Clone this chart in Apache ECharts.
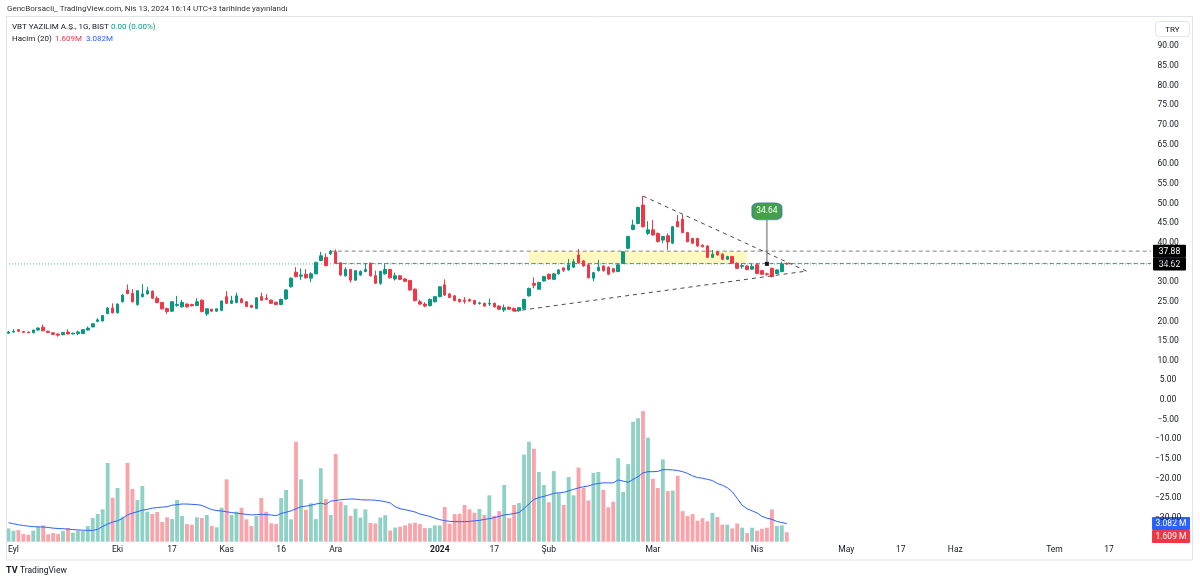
<!DOCTYPE html>
<html><head><meta charset="utf-8">
<script src="https://cdn.jsdelivr.net/npm/echarts@6/dist/echarts.min.js"></script>
<style>html,body{margin:0;padding:0;background:#fff}#c{width:1200px;height:583px}</style>
</head><body><div id="c"></div><script>
// candles: [open, close, low, high], daily bars starting Aug 31, 2023
const ohlc = [
[17.0,17.3,16.8,17.6],[17.3,17.5,17.1,18.0],[17.9,17.5,17.3,18.0],[17.4,17.2,17.1,17.5],[17.3,17.1,17.0,17.4],
[17.1,17.8,17.0,17.9],[17.8,18.3,17.6,18.5],[18.5,17.6,17.5,19.2],[17.5,17.2,17.0,17.6],[17.1,16.7,16.5,17.2],
[16.8,16.5,16.1,16.9],[16.6,17.2,16.5,17.3],[17.3,16.8,16.7,18.0],[16.8,17.0,16.7,17.1],[16.9,17.3,16.5,17.7],
[16.9,17.9,16.8,18.0],[17.8,18.3,17.7,18.7],[18.6,19.4,18.5,19.5],[20.0,20.4,19.8,20.8],[20.1,21.5,20.0,21.6],
[22.0,23.4,21.8,23.6],[23.4,22.2,22.0,24.6],[22.2,24.4,22.0,24.6],[25.0,26.7,24.8,26.9],[28.0,27.1,26.9,29.4],
[27.1,25.0,24.8,28.2],[24.3,27.8,24.0,28.0],[26.3,27.0,26.1,29.5],[27.0,27.8,26.8,28.8],[27.7,25.9,25.7,27.9],
[25.9,24.8,24.6,26.4],[24.8,23.2,23.0,25.0],[23.3,22.5,21.9,23.5],[22.6,25.0,22.4,25.2],[24.1,24.3,23.7,26.5],
[23.7,24.8,23.5,25.5],[24.4,23.7,23.5,24.6],[24.3,24.0,23.8,24.5],[24.0,25.0,23.9,25.9],[25.4,22.5,22.3,25.6],
[21.9,23.2,21.4,23.3],[23.1,22.6,22.4,23.2],[22.6,23.2,22.5,23.3],[22.8,25.2,22.6,25.3],[26.3,24.6,24.4,27.7],
[24.6,25.3,24.4,26.5],[24.8,26.5,24.6,27.3],[25.7,24.8,24.6,26.0],[25.0,23.8,23.6,25.2],[24.1,23.6,23.4,24.2],
[23.3,26.0,23.1,26.1],[26.3,25.4,25.2,27.3],[25.9,25.6,25.4,26.9],[25.4,24.6,24.4,25.6],[24.9,24.3,24.1,25.0],
[24.3,25.6,24.1,25.8],[25.7,28.0,25.5,28.2],[28.8,31.0,28.6,31.2],[32.5,31.4,31.2,33.8],[31.5,31.8,30.5,33.5],
[32.0,31.1,30.9,33.3],[31.0,32.1,30.0,32.5],[32.1,35.0,32.0,35.2],[35.5,36.7,35.3,37.7],[36.3,34.2,34.0,37.3],
[37.2,37.8,36.9,38.2],[37.7,34.8,34.6,38.3],[34.9,31.8,31.6,35.1],[31.6,33.2,31.4,33.8],[33.2,30.5,29.9,33.4],
[30.5,32.9,30.3,33.1],[31.8,32.7,31.6,33.0],[32.7,33.2,32.5,34.8],[34.8,31.6,31.4,35.0],[31.6,29.7,29.5,32.9],
[29.7,32.7,29.3,32.9],[32.1,33.2,31.9,34.8],[33.2,31.1,30.9,33.4],[30.8,31.6,30.4,32.4],[31.6,30.7,30.5,31.8],
[30.8,30.2,30.0,31.0],[30.4,28.0,27.8,30.6],[28.2,25.3,25.1,28.4],[25.0,24.4,24.2,25.5],[24.4,23.9,23.6,24.9],
[24.0,25.6,23.8,25.8],[25.0,26.3,24.8,26.5],[26.3,28.8,26.1,29.0],[29.3,26.7,26.5,30.7],[27.0,26.1,25.9,27.2],
[26.5,25.3,25.1,26.7],[25.6,25.0,24.8,25.8],[25.4,25.1,24.5,26.2],[25.6,25.2,25.0,25.8],[25.3,24.4,24.2,25.5],
[24.5,24.7,24.3,25.0],[24.6,23.9,23.7,24.8],[24.4,24.6,23.9,25.8],[24.6,23.7,23.5,24.8],[23.9,23.1,22.9,24.1],
[22.9,23.5,22.4,24.3],[23.6,23.1,22.9,23.8],[23.3,22.7,22.5,23.5],[22.7,23.5,22.5,23.7],[23.3,25.6,23.1,25.8],
[26.5,28.4,26.3,28.6],[29.7,29.2,28.4,31.2],[28.2,29.9,28.0,30.1],[30.3,31.4,30.1,31.6],[32.0,30.8,30.6,32.2],
[30.7,32.1,30.5,32.3],[32.1,33.1,31.9,33.3],[33.6,33.0,32.6,33.8],[33.1,34.4,32.9,35.9],[33.8,35.2,33.6,35.9],
[36.9,34.9,34.7,38.4],[35.4,34.1,33.9,35.6],[34.4,31.1,30.9,34.6],[31.0,32.4,30.2,32.6],[32.9,33.8,32.7,35.7],
[34.1,32.9,32.7,34.3],[33.8,32.0,31.8,34.0],[33.4,32.6,32.4,33.6],[32.7,34.4,32.5,34.6],[34.8,37.7,34.6,37.9],
[38.6,41.6,38.4,41.8],[43.4,44.5,43.2,45.9],[44.9,49.0,44.7,49.2],[49.6,44.1,43.9,51.9],[42.4,43.3,42.0,45.5],
[43.3,42.0,41.8,45.8],[42.4,40.3,40.1,42.6],[40.7,41.6,39.9,41.8],[41.8,40.2,38.2,42.4],[39.9,44.1,39.7,44.3],
[45.4,44.1,43.9,47.1],[46.0,42.6,42.4,47.1],[42.6,40.3,40.1,42.8],[41.1,39.9,39.7,41.3],[41.1,39.2,39.0,41.3],
[39.4,39.0,38.8,39.6],[39.2,36.3,36.1,39.4],[36.3,37.1,36.1,38.2],[37.7,36.9,36.7,37.9],[37.1,35.8,35.6,37.3],
[35.8,36.5,35.6,36.7],[36.5,34.8,34.6,36.7],[34.8,33.5,33.3,35.0],[34.0,34.2,33.4,34.8],[34.1,33.2,33.0,34.3],
[33.3,34.0,33.1,34.6],[34.4,32.2,32.0,34.6],[32.9,32.0,31.8,33.1],[32.1,32.0,31.6,32.4],[33.5,31.4,31.2,33.7],
[32.2,33.1,32.0,33.3],[32.7,34.62,32.5,35.2],[34.70,34.62,34.4,35.0]
];
// volume, millions
const volume = [
2.27,1.87,1.98,1.30,1.19,1.87,2.55,2.78,1.25,1.47,1.30,1.81,2.32,1.53,1.87,1.81,2.66,4.02,4.71,5.50,
13.38,7.48,9.13,4.25,13.38,8.96,7.09,9.47,5.10,4.71,5.05,3.34,4.14,3.85,7.09,4.37,3.00,2.89,4.14,4.02,
4.54,2.66,2.44,5.78,10.60,4.54,5.10,5.78,3.80,2.66,4.37,7.43,5.10,3.12,3.00,7.43,8.79,3.80,17.0,10.6,
5.44,6.52,3.85,12.5,7.26,4.54,14.9,6.8,6.2,4.4,5.6,4.1,5.5,3.2,3.1,4.1,4.5,1.9,2.4,2.55,
2.78,3.12,3.23,3.0,2.32,2.32,2.78,2.78,5.9,3.06,4.7,4.76,6.24,5.5,4.93,5.56,4.54,7.88,4.42,5.2,
9.64,4.0,6.24,6.58,14.8,17.0,15.8,11.85,9.64,6.7,12.0,8.2,6.24,11.0,7.88,12.6,9.2,7.0,11.7,11.85,
8.8,5.84,6.8,14.2,8.45,13.2,20.4,21.0,22.2,17.7,10.7,9.13,14.0,8.6,8.67,11.2,5.2,4.37,4.7,3.57,
4.0,3.46,4.9,4.2,2.9,2.9,2.27,3.1,2.38,1.47,2.38,1.87,2.2,2.38,5.5,2.66,2.78,1.609
];
// volume moving average (20), millions
const volMA = [
3.23,3.05,2.88,2.75,2.65,2.56,2.52,2.50,2.42,2.30,2.25,2.20,2.15,2.06,2.00,1.95,1.93,1.93,2.10,2.60,
3.00,3.35,3.55,3.95,4.55,4.85,5.10,5.35,5.50,5.70,5.80,5.88,5.95,6.20,6.30,6.41,6.40,6.35,6.30,6.18,
5.80,5.45,5.30,5.22,5.08,4.95,4.85,4.75,4.65,4.55,4.60,4.65,4.60,4.55,4.42,4.80,5.00,5.25,5.60,5.95,
6.05,6.20,6.40,6.55,6.35,6.90,7.00,7.14,7.20,7.26,7.24,7.14,7.10,7.10,7.05,6.95,6.80,6.60,5.95,5.60,
5.45,5.25,5.05,4.70,4.50,4.30,4.00,3.75,3.57,3.46,3.42,3.40,3.40,3.45,3.55,3.62,3.80,3.90,4.10,4.30,
4.55,4.65,4.80,4.95,5.65,6.40,7.20,7.50,7.70,7.95,8.22,8.30,8.39,8.65,8.90,9.15,9.35,9.47,9.75,9.90,
10.0,10.0,10.0,10.5,10.3,10.1,10.6,11.05,11.7,11.9,11.9,11.95,12.25,12.25,12.2,12.1,11.9,11.6,11.2,10.9,
10.8,10.6,10.4,9.9,9.6,9.18,8.5,7.37,6.2,5.6,5.25,4.9,4.3,4.0,3.80,3.45,3.25,3.08
];
const tickIdx  = [1,22,33,44,55,66,87,98,109,130,151,169,180,191,211,222];
const tickText = ['Eyl','Eki','17','Kas','16','Ara','2024','17','Şub','Mar','Nis','May','17','Haz','Tem','17'];
const barCount = 231;
const categories = Array.from({length: barCount}, (_, i) => String(i));
// drawings (bar index, price)
const triUpper = [[128, 51.9], [161, 32.8]];
const triLower = [[102, 22.6], [161, 32.8]];
const resLine = [[65, 37.88], [230.5, 37.88]];
const supLine = [[66, 34.75], [230.5, 34.75]];
const lastLine = [[-0.5, 34.62], [230.5, 34.62]];
const zone = [[105, 37.88], [149, 34.75]];
const note = {idx: 153, price: 34.64, boxPrice: 48.0, stemTop: 45.8, text: '34.64'};
const lastPrice = 34.62, lastVol = 1.609, lastMA = 3.082;

const UP = '#089981', DOWN = '#F23645';
const FONT = 'Roboto, "Noto Sans", sans-serif';
const chart = echarts.init(document.getElementById('c'), null, {renderer: 'canvas'});

const gridL = 6.02, gridR = 48.9;
const option = {
  animation: false,
  backgroundColor: '#ffffff',
  grid: [
    {left: gridL, right: gridR, top: 26.65, height: 510.9},
    {left: gridL, right: gridR, top: 341.7, height: 200}
  ],
  xAxis: [
    {type: 'category', gridIndex: 0, data: categories, boundaryGap: true, show: false},
    {type: 'category', gridIndex: 1, data: categories, boundaryGap: true,
     axisLine: {show: false}, axisTick: {show: false}, splitLine: {show: false},
     axisLabel: {show: true, margin: 4, color: '#131722', fontSize: 8.5, fontFamily: FONT,
       interval: (idx) => tickIdx.indexOf(idx) >= 0,
       formatter: (v, idx) => { const k = tickIdx.indexOf(idx); if (k < 0) return ''; const t = tickText[k]; return t === '2024' ? '{b|' + t + '}' : t; },
       rich: {b: {fontWeight: 'bold', fontSize: 8.5, fontFamily: FONT, color: '#131722'}}}},
    {type: 'value', gridIndex: 0, min: -0.5, max: barCount - 0.5, show: false}
  ],
  yAxis: [
    {type: 'value', gridIndex: 0, position: 'right', min: -35, max: 95, interval: 5,
     axisLine: {show: false}, axisTick: {show: false}, splitLine: {show: false},
     axisLabel: {margin: 17, align: 'center', color: '#131722', fontSize: 8.5, fontFamily: FONT,
       formatter: (v) => (v >= 95 || v <= -35) ? '' : (v < 0 ? '\u2212' + Math.abs(v).toFixed(2) : v.toFixed(2))}},
    {type: 'value', gridIndex: 1, min: 0, max: 34, show: false}
  ],
  series: [
    {type: 'line', xAxisIndex: 2, yAxisIndex: 0, data: resLine, symbol: 'none', z: 1,
     lineStyle: {color: '#808080', width: 1, type: [4, 3]},
     markArea: {silent: true, itemStyle: {color: 'rgba(255,235,59,0.32)'},
       data: [[{coord: zone[0]}, {coord: zone[1]}]]}},
    {type: 'line', xAxisIndex: 2, yAxisIndex: 0, data: supLine, symbol: 'none', z: 1,
     lineStyle: {color: '#808080', width: 1, type: [4, 3]}},
    {type: 'line', xAxisIndex: 2, yAxisIndex: 0, data: lastLine, symbol: 'none', z: 1,
     lineStyle: {color: 'rgba(8,153,129,0.7)', width: 1, type: [1, 2]}},
    {type: 'bar', xAxisIndex: 1, yAxisIndex: 1, barWidth: '78%', z: 2,
     data: volume.map((v, i) => ({value: v, itemStyle: {color: ohlc[i][1] >= ohlc[i][0] ? 'rgba(8,153,129,0.45)' : 'rgba(242,54,69,0.45)'}}))},
    {type: 'line', xAxisIndex: 1, yAxisIndex: 1, data: volMA, symbol: 'none', z: 3,
     lineStyle: {color: '#2962FF', width: 1}},
    {type: 'candlestick', xAxisIndex: 0, yAxisIndex: 0, data: ohlc, barWidth: 3, z: 4,
     itemStyle: {color: UP, color0: DOWN, borderColor: UP, borderColor0: DOWN, borderWidth: 1}},
    {type: 'line', xAxisIndex: 2, yAxisIndex: 0, data: triUpper, symbol: 'none', z: 5,
     lineStyle: {color: '#4a4a4a', width: 1, type: [4, 4]}},
    {type: 'line', xAxisIndex: 2, yAxisIndex: 0, data: triLower, symbol: 'none', z: 5,
     lineStyle: {color: '#4a4a4a', width: 1, type: [4, 4]}},
    {type: 'line', xAxisIndex: 2, yAxisIndex: 0, data: [[note.idx, note.price], [note.idx, note.stemTop]], symbol: 'none', z: 6,
     lineStyle: {color: '#5d606b', width: 1}},
    {type: 'scatter', xAxisIndex: 2, yAxisIndex: 0, z: 7, data: [[note.idx, note.price]],
     symbol: 'rect', symbolSize: 4, itemStyle: {color: '#131722', opacity: 1}},
    {type: 'scatter', xAxisIndex: 2, yAxisIndex: 0, z: 7, data: [[note.idx, note.boxPrice]],
     symbol: 'roundRect', symbolSize: [30, 17],
     itemStyle: {color: '#43A047', opacity: 1, borderColor: 'rgba(41,98,255,0.6)', borderWidth: 1},
     label: {show: true, position: 'inside', formatter: note.text, color: '#fff', fontSize: 8.5, fontFamily: FONT}}
  ]
};
chart.setOption(option);

const yPx = (v) => chart.convertToPixel({yAxisIndex: 0}, v);
const vPx = (v) => chart.convertToPixel({yAxisIndex: 1}, v);
function badge(text, cy, bg, x, w) {
  return {type: 'group', z: 100, children: [
    {type: 'rect', shape: {x: x, y: cy - 6.5, width: w, height: 13, r: 1}, style: {fill: bg}},
    {type: 'text', style: {text: text, x: x + w / 2, y: cy + 0.5, align: 'center', verticalAlign: 'middle', fill: '#fff', font: '8.5px ' + FONT}}
  ]};
}
function txt(text, x, y, color, size, weight) {
  return {type: 'text', z: 100, style: {text: text, x: x, y: y, align: 'left', verticalAlign: 'middle', fill: color, font: (weight || 'normal') + ' ' + size + 'px ' + FONT}};
}
const blueY = vPx(lastMA);
chart.setOption({graphic: [
  {type: 'rect', z: 90, shape: {x: 6.5, y: 16.5, width: 1186, height: 543.5}, style: {fill: 'none', stroke: '#e0e3eb', lineWidth: 1}},
  {type: 'rect', z: 100, shape: {x: 1155.5, y: 21.5, width: 34, height: 15, r: 3}, style: {fill: '#fff', stroke: '#e0e3eb', lineWidth: 1}},
  {type: 'text', z: 101, style: {text: 'TRY', x: 1172.5, y: 29.5, align: 'center', verticalAlign: 'middle', fill: '#131722', font: '8px ' + FONT}},
  badge(resLine[0][1].toFixed(2), yPx(resLine[0][1]), '#000000', 1153, 33),
  badge(lastPrice.toFixed(2), yPx(lastPrice), '#000000', 1153, 33),
  badge(lastMA.toFixed(3) + ' M', blueY, '#2962FF', 1152, 38),
  badge(lastVol.toFixed(3) + ' M', blueY + 13, '#F23645', 1152, 38),
  txt('GencBorsacii_ TradingView.com, Nis 13, 2024 16:14 UTC+3 tarihinde yayınlandı', 7, 9, '#333333', 8),
  txt('VBT YAZILIM A.Ş., 1G, BIST', 12, 27, '#131722', 8),
  txt('0.00 (0.00%)', 111, 27, UP, 8),
  txt('Hacim (20)', 12, 39, '#131722', 8),
  txt(lastVol.toFixed(3) + 'M', 55, 39, DOWN, 8),
  txt(lastMA.toFixed(3) + 'M', 86, 39, '#2962FF', 8),
  txt('TV', 6, 571, '#131722', 9, 'bold'),
  txt('TradingView', 20, 571, '#131722', 8.5)
]});
</script></body></html>
